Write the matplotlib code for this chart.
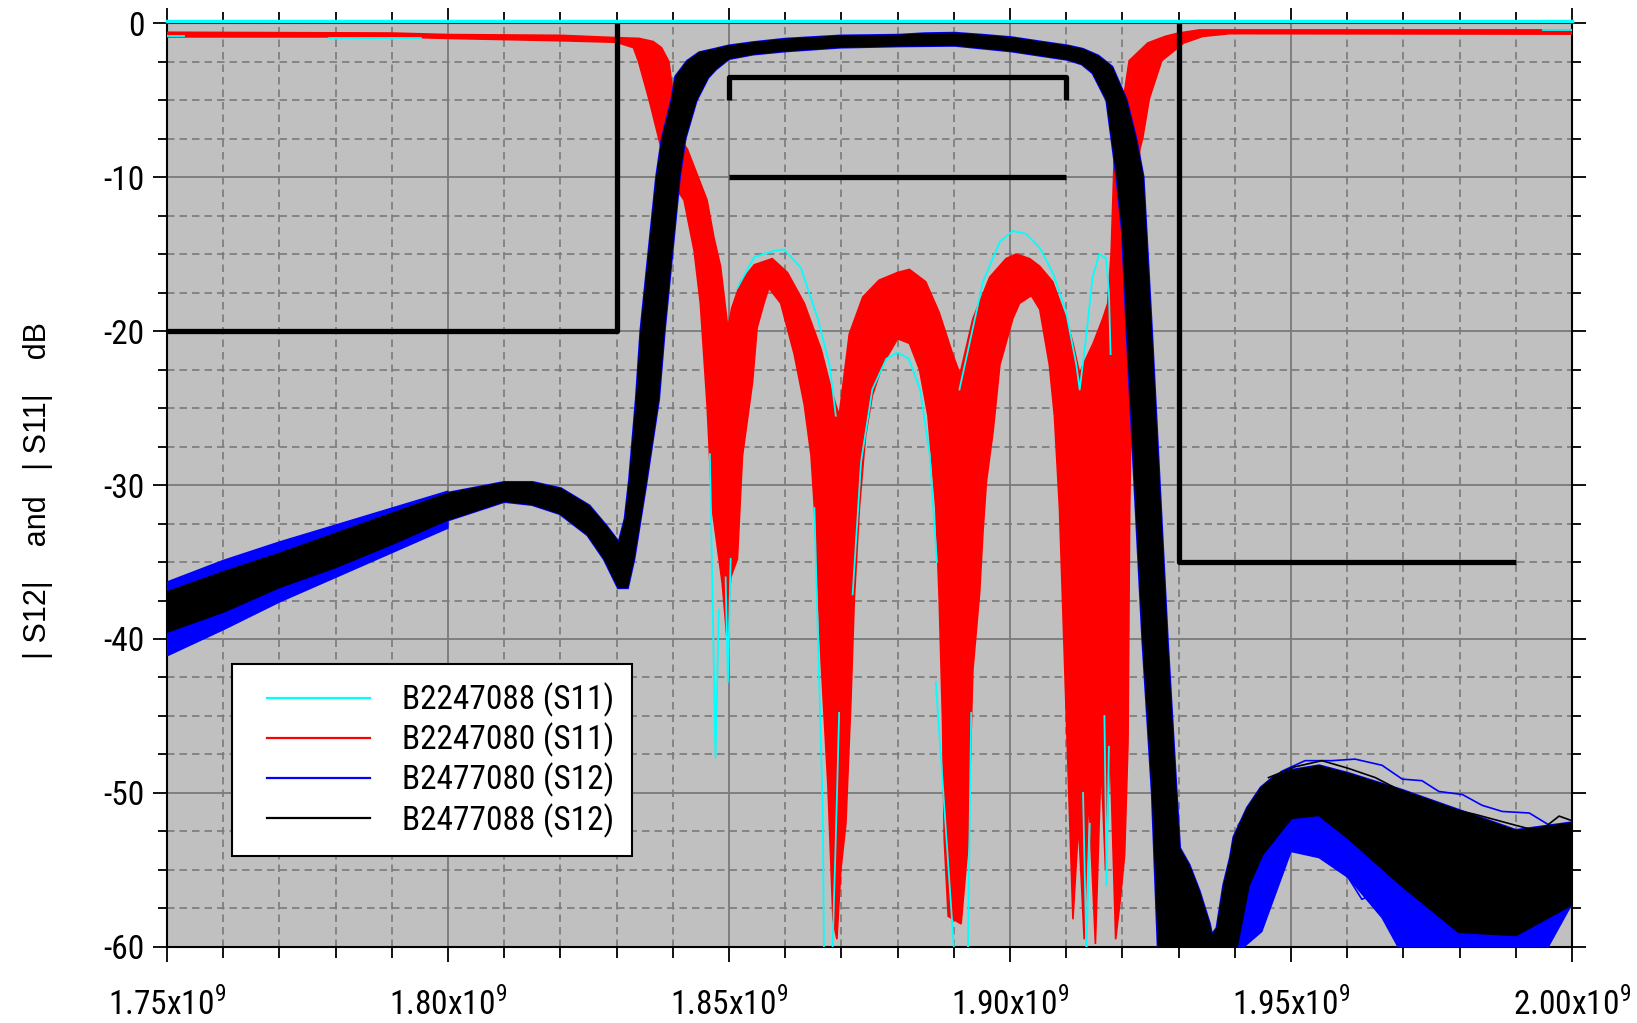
import numpy as np
import matplotlib
matplotlib.use("Agg")
import matplotlib.pyplot as plt
from matplotlib.ticker import MultipleLocator, FuncFormatter
from matplotlib.lines import Line2D
from matplotlib.legend_handler import HandlerLine2D
from matplotlib.transforms import offset_copy

plt.rcParams['font.family'] = ['Roboto Condensed', 'Liberation Sans', 'DejaVu Sans']
plt.rcParams['mathtext.fontset'] = 'custom'
plt.rcParams['mathtext.rm'] = 'Roboto Condensed'

# frequency in GHz (axis shows x10^9 Hz), magnitude in dB

# S11 envelope (red, B2247080)
s11_hi_f = [1.750, 1.790, 1.800, 1.820, 1.830, 1.834, 1.8365, 1.8380, 1.8393, 1.8402,
            1.8412, 1.8426, 1.8443, 1.8461, 1.8473, 1.8485, 1.8498, 1.8505, 1.8521, 1.8545,
            1.8577, 1.8604, 1.8634, 1.8664, 1.8685, 1.8696, 1.8714, 1.8738, 1.8767, 1.8800,
            1.8821, 1.8850, 1.8874, 1.8898, 1.8911, 1.8934, 1.8964, 1.8993, 1.9011, 1.9035,
            1.9053, 1.9076, 1.9100, 1.9112, 1.9124, 1.9130, 1.9148, 1.9165, 1.9174, 1.9180,
            1.9183, 1.9186, 1.9202, 1.9212, 1.9245, 1.9276, 1.9300, 1.9337, 1.9500, 2.0000]
s11_hi_db = [-0.60, -0.65, -0.75, -0.80, -0.95, -1.0, -1.2, -1.6, -2.5, -5.0,
             -7.5, -8.2, -9.8, -11.5, -13.9, -15.8, -19.8, -18.5, -16.8, -15.7,
             -15.3, -16.2, -18.2, -21.2, -24.2, -25.5, -20.2, -17.8, -16.7, -16.2,
             -16.0, -16.8, -18.8, -21.5, -22.8, -19.2, -16.5, -15.3, -15.0, -15.3,
             -15.8, -16.8, -19.2, -20.8, -22.8, -22.2, -20.8, -19.2, -18.2, -14.9,
             -11.5, -8.2, -4.9, -2.45, -1.3, -0.87, -0.65, -0.45, -0.45, -0.45]
s11_lo_f = [1.750, 1.790, 1.800, 1.820, 1.830, 1.8330, 1.8339, 1.8358, 1.8375, 1.8392,
            1.8420, 1.8438, 1.8449, 1.8461, 1.8470, 1.8488, 1.8496, 1.8503, 1.8515, 1.8524,
            1.8542, 1.8550, 1.8563, 1.8571, 1.8592, 1.8616, 1.8634, 1.8646, 1.8652, 1.8658,
            1.8664, 1.8676, 1.8685, 1.8692, 1.8699, 1.8708, 1.8717, 1.8723, 1.8732, 1.8743,
            1.8755, 1.8773, 1.8800, 1.8821, 1.8839, 1.8854, 1.8868, 1.8874, 1.8880, 1.8883,
            1.8890, 1.8913, 1.8925, 1.8934, 1.8946, 1.8952, 1.8958, 1.8970, 1.8982, 1.9005,
            1.9017, 1.9038, 1.9053, 1.9070, 1.9079, 1.9088, 1.9094, 1.9100, 1.9106, 1.9112,
            1.9122, 1.9132, 1.9140, 1.9152, 1.9162, 1.9170, 1.9178, 1.9188, 1.9196, 1.9204,
            1.9210, 1.9213, 1.9216, 1.9219, 1.9225, 1.9231, 1.9236, 1.9248, 1.9270, 1.9309,
            1.9343, 1.9391, 2.000]
s11_lo_db = [-0.90, -0.90, -1.0, -1.15, -1.25, -1.6, -2.5, -5.0, -7.5, -10.0,
             -11.5, -14.8, -18.2, -24.8, -31.5, -36.4, -39.8, -36.0, -34.8, -28.1,
             -23.3, -19.8, -18.1, -17.2, -18.2, -21.5, -24.8, -28.1, -31.5, -36.5,
             -41.5, -49.5, -58.2, -59.5, -55.0, -52.0, -44.0, -37.4, -31.5, -26.8,
             -24.2, -22.2, -20.5, -20.8, -22.5, -25.5, -31.5, -37.4, -45.4, -53.0,
             -58.0, -58.5, -53.5, -42.0, -37.0, -33.0, -29.8, -26.5, -22.2, -19.2,
             -18.2, -17.7, -18.6, -22.2, -25.5, -31.5, -38.1, -44.8, -51.5, -58.2,
             -52.0, -59.5, -50.0, -59.8, -48.0, -55.0, -47.0, -59.5, -57.0, -54.0,
             -46.7, -31.5, -24.8, -18.2, -11.5, -8.2, -7.5, -4.9, -2.45, -1.3,
             -0.87, -0.69, -0.72]

# single cyan traces (B2247088) that stick out of the red band
cyan_traces = [
    ([1.750, 1.753], [-0.85, -0.85]),
    ([1.7788, 1.7952], [-1.0, -1.0]),
    ([1.9949, 2.000], [-0.43, -0.43]),
    ([1.8515, 1.8545, 1.8580, 1.8598, 1.8628, 1.8658, 1.8679, 1.8690],
     [-17.2, -15.2, -14.8, -14.7, -15.9, -19.2, -22.2, -25.5]),
    ([1.8910, 1.8928, 1.8952, 1.8982, 1.9005, 1.9029, 1.9053, 1.9076, 1.9100, 1.9118,
      1.9124, 1.9135, 1.9147, 1.9159, 1.9171, 1.9176, 1.9179],
     [-23.8, -20.8, -16.8, -14.2, -13.5, -13.7, -14.6, -16.2, -18.8, -22.2,
      -23.8, -20.5, -16.5, -15.0, -15.3, -17.5, -21.5]),
    ([1.8720, 1.8735, 1.8755, 1.8780, 1.8800, 1.8820, 1.8840, 1.8857, 1.8870],
     [-37.1, -28.5, -23.8, -21.8, -21.4, -21.8, -23.8, -28.0, -35.0]),
    ([1.8466, 1.8476, 1.8482], [-28.0, -47.7, -38.1]),
    ([1.8494, 1.8498, 1.8503], [-36.0, -42.8, -34.8]),
    ([1.8652, 1.8667, 1.8669], [-31.5, -51.4, -60.5]),
    ([1.8684, 1.8690, 1.8696], [-60.5, -53.0, -44.8]),
    ([1.8868, 1.8901], [-42.8, -60.5]),
    ([1.8925, 1.8931], [-60.5, -44.8]),
    ([1.9130, 1.9136, 1.9142], [-50.0, -60.5, -52.0]),
    ([1.9168, 1.9172, 1.9176], [-45.0, -56.0, -47.0]),
]

# S12 envelope (black, B2477088)
s12_hi_f = [1.750, 1.760, 1.770, 1.780, 1.790, 1.800, 1.810, 1.815, 1.820, 1.825,
            1.828, 1.8305, 1.8317, 1.8325, 1.8337, 1.8345, 1.8373, 1.8383, 1.8400, 1.8407,
            1.8427, 1.8448, 1.8475, 1.8499, 1.8543, 1.8599, 1.8698, 1.8802, 1.8849, 1.8902,
            1.8951, 1.9003, 1.9054, 1.9103, 1.9129, 1.9156, 1.9180, 1.9205, 1.9222, 1.9235,
            1.9250, 1.9264, 1.9278, 1.9294, 1.9300, 1.9317, 1.9335, 1.9353, 1.9358, 1.9370,
            1.9382, 1.9394, 1.9400, 1.9424, 1.9448, 1.9471, 1.9500, 1.9550, 1.9602, 1.9698,
            1.9799, 1.9900, 2.0000]
s12_hi_db = [-37.0, -35.7, -34.5, -33.2, -31.9, -30.6, -29.9, -29.9, -30.3, -31.4,
             -32.7, -33.9, -32.2, -29.6, -24.4, -20.0, -10.0, -7.5, -5.0, -3.5,
             -2.53, -1.99, -1.77, -1.56, -1.34, -1.12, -0.91, -0.86, -0.76, -0.73,
             -0.86, -1.02, -1.30, -1.56, -1.77, -2.2, -2.9, -5.0, -7.5, -10.0,
             -20.0, -30.0, -40.0, -50.0, -53.6, -54.7, -56.4, -58.5, -59.4, -58.8,
             -56.0, -54.2, -52.9, -51.0, -49.7, -49.0, -48.6, -48.3, -48.8, -49.9,
             -51.2, -52.5, -52.0]
s12_lo_f = [1.750, 1.760, 1.770, 1.780, 1.790, 1.800, 1.810, 1.815, 1.820, 1.825,
            1.828, 1.8304, 1.8318, 1.8329, 1.8350, 1.8373, 1.8383, 1.8410, 1.8420, 1.8440,
            1.8461, 1.8475, 1.8499, 1.8543, 1.8599, 1.8698, 1.8802, 1.8902, 1.9003, 1.9103,
            1.9129, 1.9149, 1.9174, 1.9183, 1.9192, 1.9202, 1.9210, 1.9224, 1.9238, 1.9255,
            1.9266, 1.9400, 1.9424, 1.9448, 1.9500, 1.9550, 1.9602, 1.9698, 1.9799, 1.9900,
            2.0000]
s12_lo_db = [-39.5, -38.2, -36.6, -35.3, -33.8, -32.2, -31.0, -31.2, -31.8, -33.2,
             -34.8, -36.6, -36.6, -34.8, -30.0, -24.4, -20.0, -10.0, -7.5, -5.0,
             -3.5, -2.95, -2.25, -1.95, -1.75, -1.50, -1.42, -1.38, -1.75, -2.3,
             -2.6, -3.2, -5.0, -7.5, -10.0, -13.6, -20.0, -30.0, -40.0, -50.0,
             -60.5, -60.5, -56.0, -54.0, -51.6, -51.4, -52.9, -56.0, -59.0, -59.2,
             -57.2]

# blue (B2477080) parts that lie outside the black band
blue_left_f = [1.750, 1.760, 1.770, 1.780, 1.790, 1.800]
blue_left_hi = [-36.3, -34.9, -33.7, -32.6, -31.5, -30.4]
blue_left_lo = [-41.1, -39.4, -37.6, -36.0, -34.4, -32.8]
blue_tail_f = [1.9400, 1.9448, 1.9500, 1.9550, 1.9602, 1.9662, 1.9698, 1.9750, 1.9850, 1.9950, 2.0000]
blue_tail_hi = [-56.0, -53.0, -51.0, -51.0, -52.5, -54.0, -55.5, -57.0, -58.5, -57.5, -55.5]
blue_tail_lo = [-60.5, -59.0, -53.8, -54.2, -55.5, -58.1, -60.5, -60.5, -60.5, -60.5, -57.2]
blue_traces = [
    ([1.9406, 1.9448, 1.9483, 1.9525, 1.9573, 1.9614, 1.9662, 1.9698, 1.9733, 1.9763,
      1.9805, 1.9840, 1.9876, 1.9924, 1.9960, 2.0000],
     [-52.1, -49.9, -48.6, -47.9, -47.9, -47.8, -48.2, -49.1, -49.2, -49.9,
      -50.1, -50.8, -51.2, -51.3, -52.1, -52.1]),
    ([1.9412, 1.9448, 1.9501, 1.9555, 1.9602, 1.9626, 1.9662, 1.9698],
     [-58.8, -54.7, -52.5, -53.2, -55.5, -56.9, -56.4, -59.8]),
]
black_traces = [
    ([1.9460, 1.9507, 1.9555, 1.9602, 1.9650, 1.9698, 1.9733, 1.9781, 1.9829, 1.9900,
      1.9942, 1.9977, 2.0000],
     [-49.0, -48.3, -47.9, -48.4, -49.0, -49.9, -50.3, -51.0, -51.4, -52.1,
      -52.5, -51.5, -51.8]),
]

# spec mask
mask_lines = [
    ([1.75, 1.83, 1.83], [-20, -20, 0]),
    ([1.93, 1.93, 1.99], [0, -35, -35]),
    ([1.85, 1.85, 1.91, 1.91], [-5, -3.5, -3.5, -5]),
    ([1.85, 1.91], [-10, -10]),
]

legend_labels = ['B2247088 (S11)', 'B2247080 (S11)', 'B2477080 (S12)', 'B2477088 (S12)']
legend_colors = ['cyan', 'red', 'blue', 'black']


def band(ax, f_hi, db_hi, f_lo, db_lo, **kw):
    xs = np.concatenate([f_hi, f_lo[::-1]])
    ys = np.concatenate([db_hi, db_lo[::-1]])
    ax.fill(xs, ys, **kw)


fig = plt.figure(figsize=(16.37, 10.23), dpi=100)
ax = fig.add_axes([0.102, 0.0743, 0.8583, 0.9032])
ax.set_facecolor('#c0c0c0')

# S11
band(ax, s11_hi_f, s11_hi_db, s11_lo_f, s11_lo_db, fc='red', ec='red', lw=1.2, zorder=3)
for f, db in cyan_traces:
    ax.plot(f, db, color='cyan', lw=1.3, zorder=3.5)

# S12
band(ax, blue_left_f, blue_left_hi, blue_left_f, blue_left_lo, fc='blue', ec='blue', lw=1.0, zorder=4)
band(ax, blue_tail_f, blue_tail_hi, blue_tail_f, blue_tail_lo, fc='blue', ec='blue', lw=1.0, zorder=4)
band(ax, s12_hi_f, s12_hi_db, s12_lo_f, s12_lo_db, fc='blue', ec='blue', lw=3.6, zorder=4.2)
for f, db in blue_traces:
    ax.plot(f, db, color='blue', lw=1.2, zorder=4.3)
band(ax, s12_hi_f, s12_hi_db, s12_lo_f, s12_lo_db, fc='black', ec='black', lw=2.3, zorder=5)
for f, db in black_traces:
    ax.plot(f, db, color='black', lw=1.2, zorder=5)

for f, db in mask_lines:
    ax.plot(f, db, color='black', lw=3.8, solid_capstyle='butt', zorder=6)

# cyan reference line sitting on top edge
tr = offset_copy(ax.get_yaxis_transform(), fig=fig, x=0, y=2.0, units='dots')
ax.plot([0, 1], [0, 0], color='cyan', lw=2.5, transform=tr, clip_on=False, zorder=7)

ax.set_xlim(1.75, 2.00)
ax.set_ylim(-60, 0)
ax.xaxis.set_major_locator(MultipleLocator(0.05))
ax.xaxis.set_minor_locator(MultipleLocator(0.01))
ax.yaxis.set_major_locator(MultipleLocator(10))
ax.yaxis.set_minor_locator(MultipleLocator(2.5))
ax.xaxis.set_major_formatter(FuncFormatter(lambda v, p: f'{v:.2f}x10$^\\mathregular{{9}}$'))
ax.yaxis.set_major_formatter(FuncFormatter(lambda v, p: f'{v:.0f}'))

ax.set_axisbelow(True)
ax.grid(which='major', color='#7a7a7a', lw=1.3, ls='-')
ax.grid(which='minor', color='#7a7a7a', lw=1.2, ls=(0, (4.5, 3)))

ax.tick_params(which='both', direction='out', top=True, right=True, labeltop=False,
               labelright=False, width=1.3, color='black', labelsize=24)
ax.tick_params(axis='x', which='major', length=11, pad=18)
ax.tick_params(axis='x', which='minor', length=8)
ax.tick_params(axis='y', which='major', length=10, pad=6)
ax.tick_params(axis='y', which='minor', length=6.5)
for s in ax.spines.values():
    s.set_linewidth(1.5)
    s.set_color('black')

fig.text(0.023, 0.52, '| S12|    and   | S11|    dB', rotation=90, ha='center', va='center',
         fontsize=22, family=['Liberation Sans', 'DejaVu Sans'])

handles = [Line2D([], [], color=c, lw=1.6) for c in legend_colors]
leg = ax.legend(handles, legend_labels, loc='lower left', bbox_to_anchor=(0.046, 0.0985),
                borderaxespad=0, fontsize=24, frameon=True, fancybox=False, framealpha=1,
                edgecolor='black', borderpad=0.55, labelspacing=0.17, handlelength=3.6,
                handletextpad=0.95, handler_map={Line2D: HandlerLine2D(xpad=0.5)})
leg.get_frame().set_linewidth(1.5)
leg.set_zorder(10)

fig.savefig('out.png', dpi=100, facecolor='white')
